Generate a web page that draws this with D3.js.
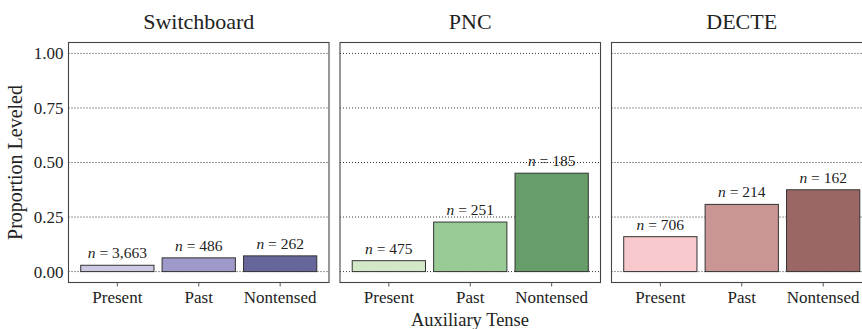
<!DOCTYPE html>
<html>
<head>
<meta charset="utf-8">
<script src="https://cdn.jsdelivr.net/npm/d3@7"></script>
<style>
  html, body { margin: 0; padding: 0; background: #fff; }
  svg { display: block; }
  svg text { font-family: "Liberation Serif", "DejaVu Serif", serif; fill: #222; }
</style>
</head>
<body>
<svg id="chart" width="862" height="329"></svg>
<script>
// Proportion of leveled auxiliaries by tense, in three corpora
const corpora = ["Switchboard", "PNC", "DECTE"];
const tenses = ["Present", "Past", "Nontensed"];
const switchboardValues = [0.029, 0.063, 0.072];
const pncValues = [0.050, 0.227, 0.451];
const decteValues = [0.160, 0.308, 0.375];
const switchboardN = ["3,663", "486", "262"];
const pncN = ["475", "251", "185"];
const decteN = ["706", "214", "162"];
const yTicks = [0, 0.25, 0.5, 0.75, 1];
const yTickLabels = ["0.00", "0.25", "0.50", "0.75", "1.00"];
const palettes = [
  ["#cbc9e3", "#9d99c8", "#66669b"],
  ["#d3e8c6", "#98cb96", "#679d68"],
  ["#f8c9cc", "#c99595", "#9a6765"]
];

const panels = [
  { name: corpora[0], values: switchboardValues, n: switchboardN, colors: palettes[0] },
  { name: corpora[1], values: pncValues, n: pncN, colors: palettes[1] },
  { name: corpora[2], values: decteValues, n: decteN, colors: palettes[2] }
];

const FONT = '"Liberation Serif", "DejaVu Serif", serif';
const svg = d3.select("#chart");
const marginLeft = 68.5, marginTop = 42.5, panelW = 260.5, panelH = 240, gap = 11;

const y = d3.scaleLinear().domain([-0.05, 1.05]).range([panelH, 0]);
const x = d3.scaleBand().domain(tenses).range([0, panelW])
  .paddingInner(0.1).paddingOuter(0.15);

panels.forEach((p, i) => {
  const g = svg.append("g")
    .attr("transform", `translate(${marginLeft + i * (panelW + gap)},${marginTop})`);

  // dotted horizontal gridlines
  g.selectAll("line.grid").data(yTicks).join("line")
    .attr("class", "grid")
    .attr("x1", 0).attr("x2", panelW)
    .attr("y1", d => y(d)).attr("y2", d => y(d))
    .attr("stroke", "#333").attr("stroke-width", 1)
    .attr("stroke-dasharray", "1,2");

  // bars
  g.selectAll("rect.bar").data(p.values).join("rect")
    .attr("class", "bar")
    .attr("x", (d, j) => x(tenses[j]))
    .attr("width", x.bandwidth())
    .attr("y", d => y(d))
    .attr("height", d => y(0) - y(d))
    .attr("fill", (d, j) => p.colors[j])
    .attr("stroke", "#333").attr("stroke-width", 1);

  // sample size labels
  const lab = g.selectAll("text.n").data(p.values).join("text")
    .attr("class", "n")
    .attr("x", (d, j) => x(tenses[j]) + x.bandwidth() / 2)
    .attr("y", d => y(d) - 7)
    .attr("text-anchor", "middle")
    .style("font-family", FONT)
    .style("font-size", "15.5px");
  lab.append("tspan").style("font-style", "italic").text("n");
  lab.append("tspan").text((d, j) => " = " + p.n[j]);

  // panel border
  g.append("rect")
    .attr("x", 0).attr("y", 0).attr("width", panelW).attr("height", panelH)
    .attr("fill", "none").attr("stroke", "#444").attr("stroke-width", 1.1);

  // x axis
  const xa = g.append("g")
    .attr("transform", `translate(0,${panelH})`)
    .call(d3.axisBottom(x).tickSize(4).tickPadding(4));
  xa.select(".domain").remove();
  xa.selectAll(".tick line").attr("stroke", "#555");
  xa.selectAll(".tick text")
    .style("font-family", FONT)
    .style("font-size", "17px").style("fill", "#222");

  // facet title
  g.append("text")
    .attr("x", panelW / 2).attr("y", -14)
    .attr("text-anchor", "middle")
    .style("font-family", FONT)
    .style("font-size", "22px")
    .text(p.name);

  if (i === 0) {
    const ya = g.append("g")
      .call(d3.axisLeft(y).tickValues(yTicks)
        .tickFormat((d, k) => yTickLabels[k]).tickSize(0).tickPadding(5));
    ya.select(".domain").remove();
    ya.selectAll(".tick text")
      .style("font-family", FONT)
      .style("font-size", "17px").style("fill", "#222");
  }
});

// axis titles
svg.append("text")
  .attr("x", 470).attr("y", 325.5)
  .attr("text-anchor", "middle")
  .style("font-family", FONT)
  .style("font-size", "18.5px")
  .text("Auxiliary Tense");

svg.append("text")
  .attr("transform", `translate(22,${marginTop + panelH / 2}) rotate(-90)`)
  .attr("text-anchor", "middle")
  .style("font-family", FONT)
  .style("font-size", "20px")
  .text("Proportion Leveled");
</script>
</body>
</html>
